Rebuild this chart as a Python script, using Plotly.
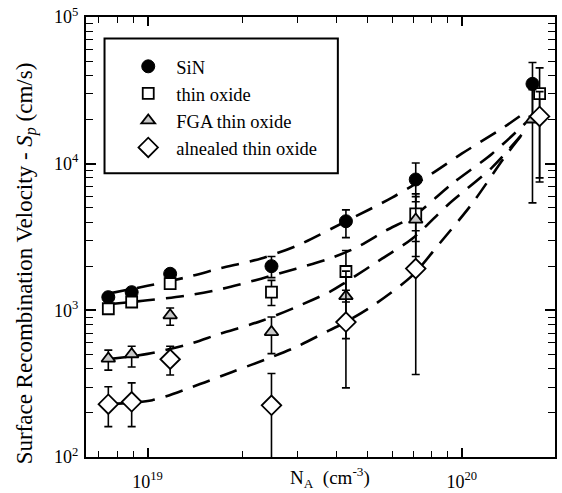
import plotly.graph_objects as go

# ---------------- data ----------------
x_pts = [7.5e18, 8.9e18, 1.18e19, 2.48e19, 4.28e19, 7.14e19]

sin_x = x_pts + [1.68e20]
sin_y = [1230, 1330, 1775, 2000, 4050, 7800, 35000]
sin_ep = [90, 90, 120, 330, 790, 2300, 14000]
sin_em = [90, 90, 120, 330, 920, 2300, 14000]

ox_x = x_pts + [1.77e20]
ox_y = [1025, 1140, 1520, 1330, 1840, 4550, 30000]
ox_ep = [60, 70, 110, 270, 720, 1670, 15000]
ox_em = [60, 70, 110, 250, 700, 1600, 22500]

fga_x = x_pts + [1.68e20]
fga_y = [469, 502, 925, 711, 1250, 4160, 20000]
fga_ep = [66, 67, 112, 190, 600, 1800, 12000]
fga_em = [78, 91, 134, 204, 609, 1830, 14600]

ann_x = x_pts + [1.77e20]
ann_y = [229, 238, 464, 225, 832, 1925, 21000]
ann_ep = [72, 82, 105, 146, 540, 1560, 10000]
ann_em = [68, 77, 102, 150, 536, 1560, 13000]

# dashed fit curves
fit_sin_x = [7.5e18, 1.0e19, 1.36e19, 1.7e19, 2.3e19, 3.0e19, 4.3e19, 6.0e19, 8.0e19, 1.0e20, 1.34e20, 1.6e20]
fit_sin_y = [1300, 1470, 1700, 1930, 2260, 2770, 4070, 5870, 8500, 11700, 17300, 22500]

fit_ox_x = [7.5e18, 1.0e19, 1.36e19, 1.7e19, 2.3e19, 2.97e19, 3.79e19, 4.65e19, 5.74e19, 7.07e19, 9.33e19, 1.25e20, 1.6e20]
fit_ox_y = [1100, 1170, 1270, 1390, 1645, 1923, 2250, 2700, 3500, 4430, 7310, 11700, 19000]

fit_fga_x = [7.5e18, 1.0e19, 1.36e19, 1.69e19, 2.3e19, 2.97e19, 3.79e19, 4.28e19, 5.59e19, 6.97e19, 9.13e19, 1.25e20, 1.6e20]
fit_fga_y = [465, 505, 590, 690, 846, 1053, 1332, 1559, 2260, 3090, 5350, 9440, 17000]

fit_ann_x = [7.5e18, 1.035e19, 1.39e19, 1.86e19, 2.49e19, 2.97e19, 3.79e19, 4.28e19, 5.33e19, 6.97e19, 8.5e19, 1.08e20, 1.38e20, 1.6e20]
fit_ann_y = [229, 244, 301, 380, 481, 562, 731, 832, 1111, 1730, 2855, 5350, 11320, 17000]

x_major = [1e19, 1e20]
x_major_text = ["10<sup>19</sup>", "10<sup>20</sup>"]
y_major = [1e2, 1e3, 1e4, 1e5]
y_major_text = ["10<sup>2</sup>", "10<sup>3</sup>", "10<sup>4</sup>", "10<sup>5</sup>"]

labels = ["SiN", "thin oxide", "FGA thin oxide", "alnealed thin oxide"]

# ---------------- figure ----------------
SERIF = "Liberation Serif"
fig = go.Figure()

dash = "18px,11px"
for fx, fy in [(fit_sin_x, fit_sin_y), (fit_ox_x, fit_ox_y), (fit_fga_x, fit_fga_y), (fit_ann_x, fit_ann_y)]:
    fig.add_trace(go.Scatter(x=fx, y=fy, mode="lines", showlegend=False, hoverinfo="skip",
                             line=dict(color="black", width=2.6, dash=dash, shape="spline", smoothing=0.8)))

def err(p, m):
    return dict(type="data", symmetric=False, array=p, arrayminus=m,
                color="black", thickness=1.6, width=4)

series = [
    (sin_x, sin_y, sin_ep, sin_em, dict(symbol="circle", size=13, color="black", line=dict(color="black", width=1))),
    (ox_x, ox_y, ox_ep, ox_em, dict(symbol="square", size=11, color="white", line=dict(color="black", width=1.8))),
    (fga_x, fga_y, fga_ep, fga_em, dict(symbol="triangle-up", size=12, color="#c8c8c8", line=dict(color="black", width=1.8))),
    (ann_x, ann_y, ann_ep, ann_em, dict(symbol="diamond", size=15, color="white", line=dict(color="black", width=1.8))),
]
for (sx, sy, ep, em, mk), name in zip(series, labels):
    fig.add_trace(go.Scatter(x=sx, y=sy, mode="markers", name=name, marker=mk, error_y=err(ep, em)))

axis_common = dict(
    showline=True, linecolor="black", linewidth=2, mirror="allticks", automargin=False,
    ticks="inside", tickcolor="black", tickwidth=1.5, showgrid=False, zeroline=False,
    tickfont=dict(family=SERIF, size=18, color="black"),
)

x_minor = [float(m) * 10.0 ** e for e in (18, 19, 20) for m in range(2, 10)]
y_minor = [float(m) * 10.0 ** e for e in (2, 3, 4) for m in range(2, 10)]

fig.update_xaxes(type="log", range=[18.804, 20.297], tickmode="array", tickvals=x_major,
                 ticktext=x_major_text, ticklen=9, ticklabelstandoff=7,
                 minor=dict(tickmode="array", tickvals=x_minor, ticks="inside", ticklen=6,
                            tickcolor="black", tickwidth=1.3),
                 **axis_common)
fig.update_yaxes(type="log", range=[2, 5], tickmode="array", tickvals=y_major,
                 ticktext=y_major_text, ticklen=10, ticklabelstandoff=2,
                 minor=dict(tickmode="array", tickvals=y_minor, ticks="inside", ticklen=7,
                            tickcolor="black", tickwidth=1.3),
                 **axis_common)

fig.add_shape(type="rect", xref="paper", yref="paper", x0=0.0395, x1=0.537, y0=0.645, y1=0.951,
              line=dict(color="black", width=2), fillcolor="white", layer="below")

fig.add_annotation(text="Surface Recombination Velocity - <i>S<sub>p</sub></i> (cm/s)",
                   xref="paper", yref="paper", x=-0.128, y=0.44, textangle=-90, showarrow=False,
                   font=dict(family=SERIF, size=23, color="black"), xanchor="center", yanchor="middle")
fig.add_annotation(text="N<sub>A</sub>  (cm<sup>-3</sup>)",
                   xref="paper", yref="paper", x=0.52, y=-0.0818, showarrow=False,
                   font=dict(family=SERIF, size=19, color="black"), xanchor="center", yanchor="bottom")

fig.update_layout(
    width=562, height=493,
    margin=dict(l=86, r=7, t=17, b=36, autoexpand=False),
    paper_bgcolor="white", plot_bgcolor="white",
    showlegend=True,
    legend=dict(x=0.073, y=0.93, xanchor="left", yanchor="top", bgcolor="rgba(0,0,0,0)",
                borderwidth=0, font=dict(family=SERIF, size=18.5, color="black"),
                itemwidth=46, tracegroupgap=0),
)

fig.write_html("out.html")
